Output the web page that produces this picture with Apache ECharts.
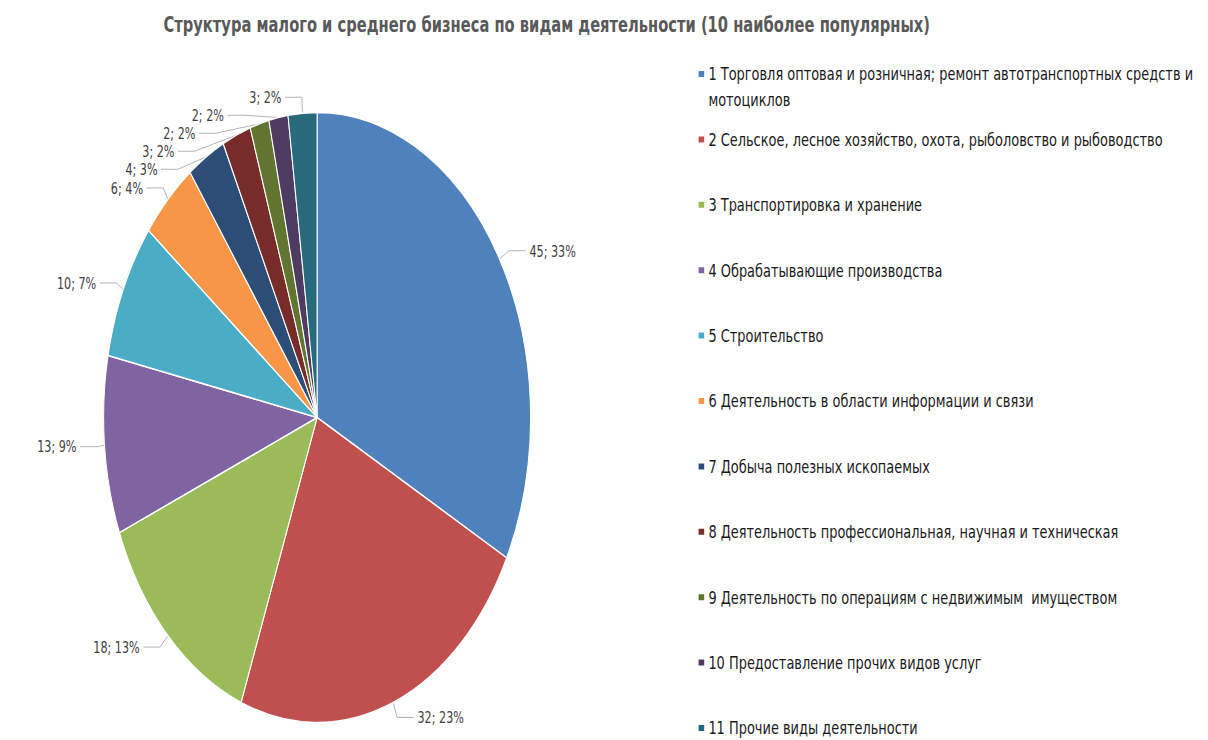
<!DOCTYPE html>
<html><head><meta charset="utf-8">
<script src="https://cdn.jsdelivr.net/npm/echarts@6/dist/echarts.min.js"></script>
<style>
html,body{margin:0;padding:0;background:#fff;overflow:hidden;width:1208px;height:740px;}
#chart{width:1726px;height:740px;transform:scaleX(0.7);transform-origin:0 0;}
</style></head><body>
<div id="chart"></div>
<script>
const titleText = 'Структура малого и среднего бизнеса по видам деятельности (10 наиболее популярных)';
const categories = [
  '1 Торговля оптовая и розничная; ремонт автотранспортных средств и мотоциклов',
  '2 Сельское, лесное хозяйство, охота, рыболовство и рыбоводство',
  '3 Транспортировка и хранение',
  '4 Обрабатывающие производства',
  '5 Строительство',
  '6 Деятельность в области информации и связи',
  '7 Добыча полезных ископаемых',
  '8 Деятельность профессиональная, научная и техническая',
  '9 Деятельность по операциям с недвижимым  имуществом',
  '10 Предоставление прочих видов услуг',
  '11 Прочие виды деятельности'
];
const values = [45, 32, 18, 13, 10, 6, 4, 3, 2, 2, 3];
const percents = [33, 23, 13, 9, 7, 4, 3, 2, 2, 2, 2];
const colors = ['#4F81BD','#C0504D','#9BBB59','#8064A2','#4BACC6','#F79646','#2C4D75','#772C2A','#5F7530','#4D3B62','#276A7C'];

const chart = echarts.init(document.getElementById('chart'), null, {renderer: 'svg'});

const legends = categories.map((name, i) => {
  const yc = 74 + i * 65.4;
  const first = i === 0;
  return {
    orient: 'vertical',
    left: 996,
    top: first ? yc - 39 : yc - 13,
    padding: 0,
    itemWidth: 10,
    itemHeight: 8,
    itemGap: 0,
    icon: 'rect',
    data: [name],
    formatter: first ? (n => '\u00a0\n' + n.replace(' мотоциклов', '\nмотоциклов')) : undefined,
    textStyle: {
      fontFamily: 'DejaVu Sans',
      fontSize: 18.5,
      color: '#1a1a1a',
      lineHeight: 26
    },
    selectedMode: false
  };
});

chart.setOption({
  animation: false,
  color: colors,
  title: {
    text: titleText,
    left: 776,
    top: 9,
    textAlign: 'center',
    textStyle: {fontFamily: 'DejaVu Sans', fontSize: 21, fontWeight: 'bold', color: '#595959'}
  },
  legend: legends,
  series: [{
    type: 'pie',
    center: [453, 417.5],
    radius: 305,
    startAngle: 90,
    clockwise: true,
    avoidLabelOverlap: true,
    itemStyle: {borderColor: '#fff', borderWidth: 1.5},
    label: {
      show: true,
      position: 'outside',
      fontFamily: 'DejaVu Sans',
      fontSize: 16,
      color: '#404040',
      formatter: p => p.value + '; ' + percents[p.dataIndex] + '%'
    },
    labelLine: {show: true, length: 16, length2: 24, lineStyle: {color: '#a6a6a6', width: 1}},
    data: categories.map((n, i) => ({name: n, value: values[i]}))
  }]
});
</script>
</body></html>
